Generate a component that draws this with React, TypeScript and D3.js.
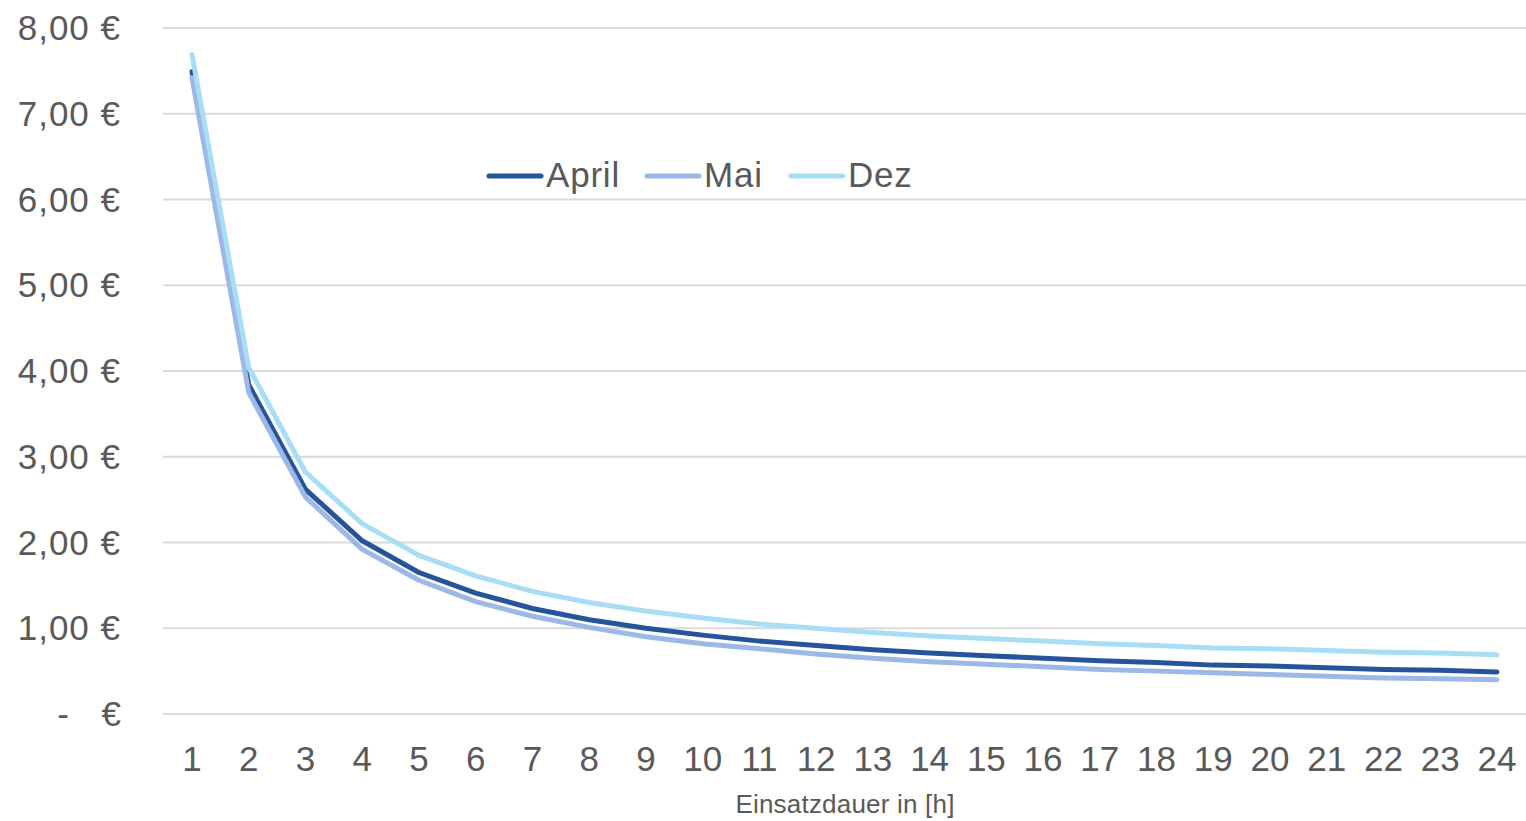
import React from "react";
import * as d3 from "d3";

const hours = Array.from({ length: 24 }, (_, i) => i + 1);
const april = [7.49, 3.84, 2.62, 2.02, 1.65, 1.41, 1.23, 1.1, 1.0, 0.92, 0.85, 0.8, 0.75, 0.71, 0.68, 0.65, 0.62, 0.6, 0.57, 0.56, 0.54, 0.52, 0.51, 0.49];
const mai = [7.42, 3.75, 2.53, 1.92, 1.56, 1.31, 1.14, 1.01, 0.9, 0.82, 0.76, 0.7, 0.65, 0.61, 0.58, 0.55, 0.52, 0.5, 0.48, 0.46, 0.44, 0.42, 0.41, 0.4];
const dez = [7.69, 4.04, 2.82, 2.22, 1.85, 1.61, 1.43, 1.3, 1.2, 1.12, 1.05, 1.0, 0.95, 0.91, 0.88, 0.85, 0.82, 0.8, 0.77, 0.76, 0.74, 0.72, 0.71, 0.69];
const yTicks = [0, 1, 2, 3, 4, 5, 6, 7, 8];
const seriesNames = ["April", "Mai", "Dez"];
const seriesColors = ["#26549A", "#9BB8E6", "#A8DDF6"];

export default function App() {
  const W = 1526, H = 821;
  const x = d3.scaleLinear().domain([1, 24]).range([192, 1497]);
  const y = d3.scaleLinear().domain([0, 8]).range([714, 28]);
  const line = d3.line<number>().x((_, i) => x(hours[i])).y((d) => y(d));
  const data = [april, mai, dez];
  const font = "Liberation Sans, Arial, sans-serif";
  const legendX = [489, 647, 791];
  return (
    <svg width={W} height={H} style={{ position: "absolute", left: 0, top: 0 }} fontFamily={font}>
      <rect width={W} height={H} fill="#fff" />
      {yTicks.map((t) => (
        <g key={t}>
          <line x1={163} x2={1526} y1={y(t)} y2={y(t)} stroke="#D9D9D9" strokeWidth={2} />
          {t === 0 ? (
            <>
              <text x={63} y={y(t) + 12} fontSize={35} fill="#595959" textAnchor="middle">-</text>
              <text x={121} y={y(t) + 12} fontSize={35} fill="#595959" textAnchor="end">€</text>
            </>
          ) : (
            <text x={121} y={y(t) + 12} fontSize={35} letterSpacing={1} fill="#595959" textAnchor="end">
              {t.toFixed(2).replace(".", ",") + " €"}
            </text>
          )}
        </g>
      ))}
      {hours.map((h) => (
        <text key={h} x={x(h)} y={771} fontSize={35} fill="#595959" textAnchor="middle">{h}</text>
      ))}
      <text x={845} y={813} fontSize={26} letterSpacing={0.2} fill="#595959" textAnchor="middle">Einsatzdauer in [h]</text>
      {data.map((d, i) => (
        <path key={i} d={line(d) || ""} fill="none" stroke={seriesColors[i]} strokeWidth={5} strokeLinejoin="round" strokeLinecap="round" />
      ))}
      {seriesNames.map((n, i) => (
        <g key={n}>
          <line x1={legendX[i]} x2={legendX[i] + 52} y1={176} y2={176} stroke={seriesColors[i]} strokeWidth={5} strokeLinecap="round" />
          <text x={legendX[i] + 57} y={187} fontSize={35} letterSpacing={0.8} fill="#595959">{n}</text>
        </g>
      ))}
    </svg>
  );
}
